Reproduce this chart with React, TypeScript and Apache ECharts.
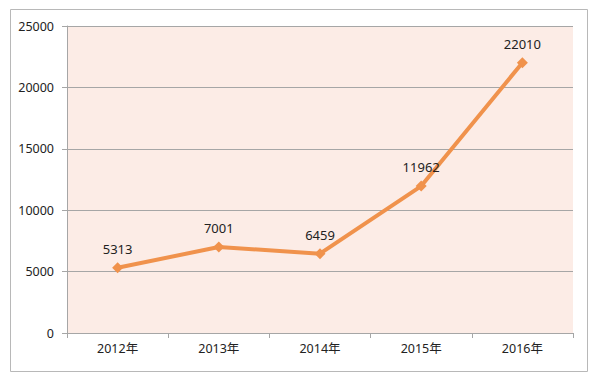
import React, { useEffect, useRef } from "react";
import * as echarts from "echarts";

const categories = ["2012年", "2013年", "2014年", "2015年", "2016年"];
const values = [5313, 7001, 6459, 11962, 22010];
const yTicks = [0, 5000, 10000, 15000, 20000, 25000];

export default function App() {
  const ref = useRef<HTMLDivElement>(null);
  useEffect(() => {
    const chart = echarts.init(ref.current!, null, { renderer: "svg" });
    const font = "'Noto Sans', 'Noto Sans CJK SC', sans-serif";
    chart.setOption({
      animation: false,
      backgroundColor: "#ffffff",
      graphic: [
        {
          type: "rect",
          shape: { x: 10.5, y: 9.5, width: 577, height: 362 },
          style: { fill: "none", stroke: "#b8b8b8", lineWidth: 1 },
          silent: true,
        },
      ],
      grid: {
        left: 67,
        right: 32,
        top: 26,
        bottom: 48,
        show: true,
        backgroundColor: "#FCECE6",
        borderWidth: 0,
      },
      xAxis: {
        type: "category",
        data: categories,
        boundaryGap: true,
        axisLine: { show: true, lineStyle: { color: "#a6a6a6", width: 1 } },
        axisTick: { show: true, length: 5, lineStyle: { color: "#a6a6a6" } },
        axisLabel: { color: "#222", fontSize: 12.5, fontFamily: font, margin: 9 },
        splitLine: { show: false },
      },
      yAxis: {
        type: "value",
        min: 0,
        max: yTicks[yTicks.length - 1],
        interval: 5000,
        axisLine: { show: true, lineStyle: { color: "#a6a6a6", width: 1 } },
        axisTick: { show: true, length: 5, lineStyle: { color: "#a6a6a6" } },
        axisLabel: {
          color: "#222",
          fontSize: 12.5,
          fontFamily: font,
          margin: 13,
          formatter: (v: number) => String(v),
        },
        splitLine: { show: true, lineStyle: { color: "#a6a6a6", width: 1 } },
      },
      series: [
        {
          type: "line",
          data: values,
          symbol: "diamond",
          symbolSize: 11,
          lineStyle: { color: "#F0924C", width: 4 },
          itemStyle: { color: "#F0924C" },
          label: {
            show: true,
            position: "top",
            distance: 7,
            color: "#222",
            fontSize: 13,
            fontFamily: font,
          },
        },
      ],
    });
    return () => chart.dispose();
  }, []);
  return <div ref={ref} style={{ width: 605, height: 381, margin: -8 }} />;
}
